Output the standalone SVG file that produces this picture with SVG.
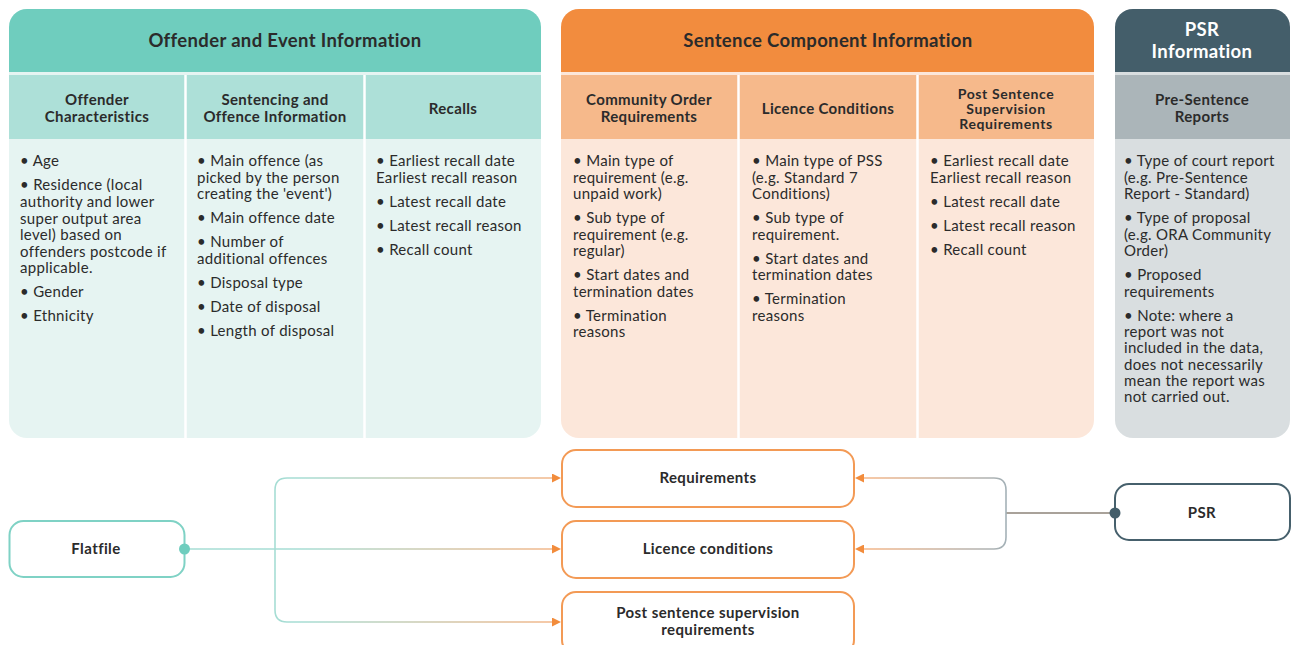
<svg xmlns="http://www.w3.org/2000/svg" width="1293" height="645" viewBox="0 0 1293 645">
<style>
text{font-family:Lato,"Liberation Sans",sans-serif;fill:#2b2b2b}
.h{font-size:18.5px;font-weight:700;text-anchor:middle;letter-spacing:0.35px}
.hw{font-size:18.5px;font-weight:700;text-anchor:middle;fill:#ffffff;letter-spacing:0.35px}
.s{font-size:15px;font-weight:700;text-anchor:middle;letter-spacing:0.35px}
.s3{font-size:14px;font-weight:700;text-anchor:middle;letter-spacing:0.6px}
.b{font-size:15px;letter-spacing:0.3px}
.n{font-size:15px;font-weight:700;text-anchor:middle;letter-spacing:0.4px}
.div{stroke:#ffffff;stroke-width:2.5}
.tealN{fill:#ffffff;stroke:#7fd2c5;stroke-width:2}
.orN{fill:#ffffff;stroke:#f39a55;stroke-width:2}
.psrN{fill:#ffffff;stroke:#46606c;stroke-width:2}
.fc{fill:none;stroke:url(#gTeal);stroke-width:1.6}
.pc{fill:none;stroke:url(#gPsr);stroke-width:1.6}
</style>
<defs>
<clipPath id="cT"><rect x="9" y="9" width="532" height="429" rx="18"/></clipPath>
<clipPath id="cO"><rect x="561" y="9" width="533" height="429" rx="18"/></clipPath>
<clipPath id="cP"><rect x="1115" y="9" width="175" height="429" rx="18"/></clipPath>
<linearGradient id="gTeal" gradientUnits="userSpaceOnUse" x1="300" y1="0" x2="560" y2="0">
<stop offset="0" stop-color="#a6ddd4"/><stop offset="1" stop-color="#f5b688"/>
</linearGradient>
<linearGradient id="gPsr" gradientUnits="userSpaceOnUse" x1="1006" y1="0" x2="865" y2="0">
<stop offset="0" stop-color="#a4b1b7"/><stop offset="1" stop-color="#f5b688"/>
</linearGradient>
<marker id="arr" viewBox="0 0 10 10" refX="0" refY="5" markerWidth="10" markerHeight="9" markerUnits="userSpaceOnUse" orient="auto">
<path d="M0,0 L10,5 L0,10 z" fill="#f28c3c"/>
</marker>
</defs>

<g id="panel-offender">
<g clip-path="url(#cT)">
<rect x="9" y="9" width="532" height="429" fill="#e6f4f2"/>
<rect x="9" y="9" width="532" height="63" fill="#6fcdbe"/>
<rect x="9" y="75" width="532" height="64" fill="#ade0d8"/>
<line class="div" x1="185.5" y1="75" x2="185.5" y2="438"/>
<line class="div" x1="364.5" y1="75" x2="364.5" y2="438"/>
</g>
<text class="h" x="285" y="47">Offender and Event Information</text>
<text class="s"><tspan x="97" y="105">Offender</tspan><tspan x="97" y="122">Characteristics</tspan></text>
<text class="s"><tspan x="275" y="105">Sentencing and</tspan><tspan x="275" y="122">Offence Information</tspan></text>
<text class="s" x="453" y="114">Recalls</text>
<text class="b"><tspan x="20" y="166">• Age</tspan><tspan x="20" y="190">• Residence (local</tspan><tspan x="20" y="207">authority and lower</tspan><tspan x="20" y="223.5">super output area</tspan><tspan x="20" y="240">level) based on</tspan><tspan x="20" y="256.5">offenders postcode if</tspan><tspan x="20" y="273">applicable.</tspan><tspan x="20" y="296.5">• Gender</tspan><tspan x="20" y="320.5">• Ethnicity</tspan></text>
<text class="b"><tspan x="197" y="166">• Main offence (as</tspan><tspan x="197" y="182.5">picked by the person</tspan><tspan x="197" y="199">creating the 'event')</tspan><tspan x="197" y="223">• Main offence date</tspan><tspan x="197" y="247">• Number of</tspan><tspan x="197" y="263.5">additional offences</tspan><tspan x="197" y="288">• Disposal type</tspan><tspan x="197" y="311.5">• Date of disposal</tspan><tspan x="197" y="335.5">• Length of disposal</tspan></text>
<text class="b"><tspan x="376" y="166">• Earliest recall date</tspan><tspan x="376" y="182.5">Earliest recall reason</tspan><tspan x="376" y="207">• Latest recall date</tspan><tspan x="376" y="231">• Latest recall reason</tspan><tspan x="376" y="255">• Recall count</tspan></text>
</g>

<g id="panel-sentence">
<g clip-path="url(#cO)">
<rect x="561" y="9" width="533" height="429" fill="#fce7da"/>
<rect x="561" y="9" width="533" height="63" fill="#f28c3e"/>
<rect x="561" y="75" width="533" height="64" fill="#f6b98b"/>
<line class="div" x1="738.5" y1="75" x2="738.5" y2="438"/>
<line class="div" x1="917.5" y1="75" x2="917.5" y2="438"/>
</g>
<text class="h" x="828" y="47">Sentence Component Information</text>
<text class="s"><tspan x="649" y="105">Community Order</tspan><tspan x="649" y="122">Requirements</tspan></text>
<text class="s" x="828" y="114">Licence Conditions</text>
<text class="s3"><tspan x="1006" y="99">Post Sentence</tspan><tspan x="1006" y="114">Supervision</tspan><tspan x="1006" y="129">Requirements</tspan></text>
<text class="b"><tspan x="573" y="166">• Main type of</tspan><tspan x="573" y="182.5">requirement (e.g.</tspan><tspan x="573" y="199">unpaid work)</tspan><tspan x="573" y="223">• Sub type of</tspan><tspan x="573" y="239.5">requirement (e.g.</tspan><tspan x="573" y="256">regular)</tspan><tspan x="573" y="280">• Start dates and</tspan><tspan x="573" y="296.5">termination dates</tspan><tspan x="573" y="320.5">• Termination</tspan><tspan x="573" y="337">reasons</tspan></text>
<text class="b"><tspan x="752" y="166">• Main type of PSS</tspan><tspan x="752" y="182.5">(e.g. Standard 7</tspan><tspan x="752" y="199">Conditions)</tspan><tspan x="752" y="223">• Sub type of</tspan><tspan x="752" y="239.5">requirement.</tspan><tspan x="752" y="263.5">• Start dates and</tspan><tspan x="752" y="280">termination dates</tspan><tspan x="752" y="304">• Termination</tspan><tspan x="752" y="320.5">reasons</tspan></text>
<text class="b"><tspan x="930" y="166">• Earliest recall date</tspan><tspan x="930" y="182.5">Earliest recall reason</tspan><tspan x="930" y="207">• Latest recall date</tspan><tspan x="930" y="231">• Latest recall reason</tspan><tspan x="930" y="255">• Recall count</tspan></text>
</g>

<g id="panel-psr">
<g clip-path="url(#cP)">
<rect x="1115" y="9" width="175" height="429" fill="#d9dee0"/>
<rect x="1115" y="9" width="175" height="63" fill="#445e6a"/>
<rect x="1115" y="75" width="175" height="64" fill="#abb5b9"/>
</g>
<text class="hw"><tspan x="1202" y="36">PSR</tspan><tspan x="1202" y="58">Information</tspan></text>
<text class="s"><tspan x="1202" y="105">Pre-Sentence</tspan><tspan x="1202" y="122">Reports</tspan></text>
<text class="b"><tspan x="1124" y="166">• Type of court report</tspan><tspan x="1124" y="182.5">(e.g. Pre-Sentence</tspan><tspan x="1124" y="199">Report - Standard)</tspan><tspan x="1124" y="223">• Type of proposal</tspan><tspan x="1124" y="239.5">(e.g. ORA Community</tspan><tspan x="1124" y="256">Order)</tspan><tspan x="1124" y="280">• Proposed</tspan><tspan x="1124" y="296.5">requirements</tspan><tspan x="1124" y="320.5">• Note: where a</tspan><tspan x="1124" y="337">report was not</tspan><tspan x="1124" y="353">included in the data,</tspan><tspan x="1124" y="369.5">does not necessarily</tspan><tspan x="1124" y="386">mean the report was</tspan><tspan x="1124" y="402">not carried out.</tspan></text>
</g>

<g id="connectors">
<path class="fc" d="M184,549 H552" marker-end="url(#arr)"/>
<path class="fc" d="M275,549 V490 Q275,478 287,478 H552" marker-end="url(#arr)"/>
<path class="fc" d="M275,549 V610 Q275,622 287,622 H552" marker-end="url(#arr)"/>
<path d="M1115,513 H1006" fill="none" stroke="#8c8378" stroke-width="1.6"/>
<path class="pc" d="M1006,513 V490 Q1006,478 994,478 H864" marker-end="url(#arr)"/>
<path class="pc" d="M1006,513 V537 Q1006,549 994,549 H864" marker-end="url(#arr)"/>
</g>

<g id="node-flatfile">
<rect class="tealN" x="9.5" y="521" width="175" height="56" rx="14"/>
<text class="n" x="96" y="554">Flatfile</text>
<circle cx="184.5" cy="549" r="5.5" fill="#6fcdbe"/>
</g>
<g id="node-requirements">
<rect class="orN" x="562" y="450" width="292" height="57" rx="14"/>
<text class="n" x="708" y="483">Requirements</text>
</g>
<g id="node-licence">
<rect class="orN" x="562" y="521" width="292" height="57" rx="14"/>
<text class="n" x="708" y="554">Licence conditions</text>
</g>
<g id="node-pss">
<rect class="orN" x="562" y="592" width="292" height="62" rx="14"/>
<text class="n"><tspan x="708" y="618">Post sentence supervision</tspan><tspan x="708" y="635">requirements</tspan></text>
</g>
<g id="node-psr">
<rect class="psrN" x="1115" y="484" width="175" height="56" rx="14"/>
<text class="n" x="1202" y="518">PSR</text>
<circle cx="1115" cy="513" r="5.5" fill="#445e6a"/>
</g>
</svg>
